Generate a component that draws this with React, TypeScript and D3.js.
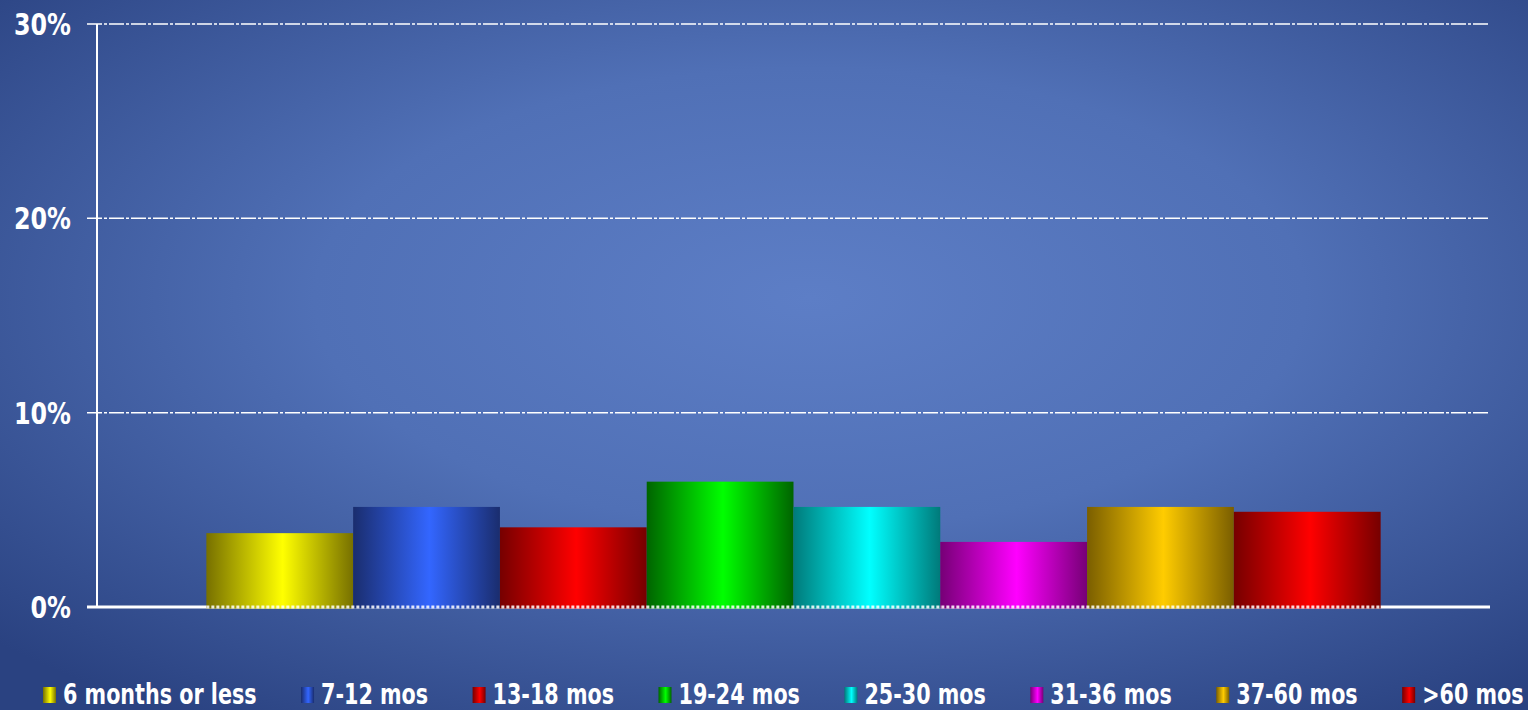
import React, { useEffect, useRef } from "react";
import * as d3 from "d3";

const categories = ["6 months or less", "7-12 mos", "13-18 mos", "19-24 mos", "25-30 mos", "31-36 mos", "37-60 mos", ">60 mos"];
const values = [3.8, 5.15, 4.1, 6.45, 5.15, 3.35, 5.15, 4.9];
const edgeColors = ["#777000", "#1a2d6e", "#760000", "#006400", "#007a7a", "#760076", "#7a5e00", "#760000"];
const centerColors = ["#ffff00", "#3366ff", "#ff0000", "#00ff00", "#00ffff", "#ff00ff", "#ffcc00", "#ff0000"];
const yTicks = [0, 10, 20, 30];

const W = 1528;
const H = 710;

export default function App() {
  const ref = useRef<SVGSVGElement>(null);

  useEffect(() => {
    const svg = d3.select(ref.current);
    svg.selectAll("*").remove();
    const defs = svg.append("defs");

    const bg = defs.append("radialGradient").attr("id", "bg").attr("cx", "53%").attr("cy", "42%").attr("r", "72%").attr("fx", "53%").attr("fy", "42%");
    bg.append("stop").attr("offset", "0%").attr("stop-color", "#5d7ec6");
    bg.append("stop").attr("offset", "45%").attr("stop-color", "#5070b6");
    bg.append("stop").attr("offset", "100%").attr("stop-color", "#2a4281");

    categories.forEach((_, i) => {
      const g = defs.append("linearGradient").attr("id", `bar${i}`).attr("x1", "0").attr("x2", "1").attr("y1", "0").attr("y2", "0");
      g.append("stop").attr("offset", "0%").attr("stop-color", edgeColors[i]);
      g.append("stop").attr("offset", "52%").attr("stop-color", centerColors[i]);
      g.append("stop").attr("offset", "100%").attr("stop-color", edgeColors[i]);
    });

    svg.append("rect").attr("width", W).attr("height", H).attr("fill", "url(#bg)");

    const left = 97, right = 1490, top = 24, bottom = 607;
    const y = d3.scaleLinear().domain([0, 30]).range([bottom, top]);
    const x = d3.scaleBand<string>().domain(categories).range([left, right]).paddingInner(0).paddingOuter(0.745);

    // gridlines
    svg.append("g").selectAll("line").data(yTicks.filter(t => t > 0)).join("line")
      .attr("x1", left - 10).attr("x2", right)
      .attr("y1", d => y(d)).attr("y2", d => y(d))
      .attr("stroke", "#ffffff").attr("stroke-width", 1.5)
      .attr("stroke-dasharray", "15,2,3,2");

    // y-axis line
    svg.append("line").attr("x1", left).attr("x2", left).attr("y1", top).attr("y2", bottom)
      .attr("stroke", "#ffffff").attr("stroke-width", 2);

    // baseline
    svg.append("line").attr("x1", left - 10).attr("x2", right).attr("y1", bottom).attr("y2", bottom)
      .attr("stroke", "#ffffff").attr("stroke-width", 3);

    // bars
    svg.append("g").selectAll("rect").data(values).join("rect")
      .attr("x", (_, i) => x(categories[i])!)
      .attr("width", x.bandwidth())
      .attr("y", d => y(d))
      .attr("height", d => bottom + 1.5 - y(d))
      .attr("fill", (_, i) => `url(#bar${i})`);

    const x0 = x(categories[0])!;
    const x1 = x(categories[categories.length - 1])! + x.bandwidth();
    svg.append("line").attr("x1", x0).attr("x2", x1).attr("y1", bottom).attr("y2", bottom)
      .attr("stroke", "#ffffff").attr("stroke-width", 3).attr("stroke-dasharray", "3,2").attr("opacity", 0.85);

    // y tick labels
    svg.append("g").selectAll("text").data(yTicks).join("text")
      .attr("transform", d => `translate(71,${y(d)}) scale(1,1.14)`)
      .attr("text-anchor", "end").attr("dy", "0.36em")
      .attr("font-family", "'DejaVu Sans Condensed', 'DejaVu Sans', sans-serif")
      .attr("font-weight", "bold").attr("font-size", 26.5).attr("fill", "#ffffff")
      .text(d => `${d}%`);

    // legend
    const lg = svg.append("g");
    let cx = 43;
    const baseline = 704;
    categories.forEach((c, i) => {
      const lgr = defs.append("linearGradient").attr("id", `leg${i}`).attr("x1", "0").attr("x2", "1").attr("y1", "0").attr("y2", "0");
      lgr.append("stop").attr("offset", "0%").attr("stop-color", edgeColors[i]);
      lgr.append("stop").attr("offset", "55%").attr("stop-color", centerColors[i]);
      lgr.append("stop").attr("offset", "100%").attr("stop-color", edgeColors[i]);
      lg.append("rect").attr("x", cx).attr("y", 687).attr("width", 13).attr("height", 16).attr("fill", `url(#leg${i})`);
      const t = lg.append("text")
        .attr("transform", `translate(${cx + 20},${baseline}) scale(1,1.2)`)
        .attr("font-family", "'DejaVu Sans Condensed', 'DejaVu Sans', sans-serif")
        .attr("font-weight", "bold").attr("font-size", 23).attr("fill", "#ffffff")
        .text(c);
      const w = (t.node() as SVGTextElement).getComputedTextLength();
      cx = cx + 20 + w + 44.5;
    });
  }, []);

  return (
    <svg ref={ref} width={W} height={H} style={{ position: "absolute", left: 0, top: 0, display: "block" }} />
  );
}
